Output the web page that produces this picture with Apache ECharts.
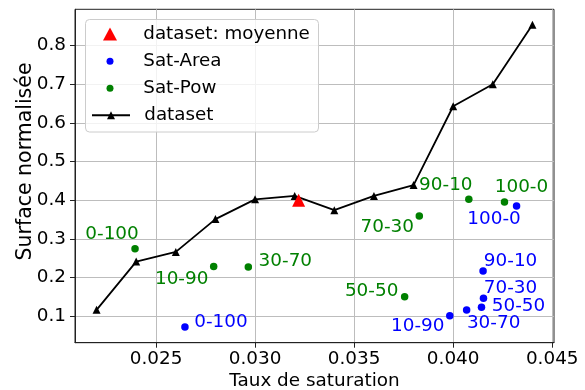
<!DOCTYPE html>
<html>
<head>
<meta charset="utf-8">
<script src="https://cdn.jsdelivr.net/npm/echarts@6/dist/echarts.min.js"></script>
<style>html,body{margin:0;padding:0;background:#fff}#c{width:585px;height:390px}</style>
</head>
<body>
<div id="c"></div>
<script>
// ---- data ----
const datasetX = [0.022, 0.024, 0.026, 0.028, 0.030, 0.032, 0.034, 0.036, 0.038, 0.040, 0.042, 0.044];
const datasetY = [0.116, 0.241, 0.266, 0.351, 0.402, 0.411, 0.374, 0.411, 0.439, 0.643, 0.700, 0.854];
const moyenneX = [0.0322];
const moyenneY = [0.400];
const satPowX = [0.02394, 0.02791, 0.02966, 0.03755, 0.03829, 0.04079, 0.04259];
const satPowY = [0.274, 0.228, 0.227, 0.150, 0.359, 0.402, 0.395];
const satPowLabels = ['0-100', '10-90', '30-70', '50-50', '70-30', '90-10', '100-0'];
const satAreaX = [0.02646, 0.03983, 0.04068, 0.04143, 0.04153, 0.04151, 0.04320];
const satAreaY = [0.0715, 0.101, 0.1155, 0.123, 0.146, 0.2166, 0.385];
const satAreaLabels = ['0-100', '10-90', '30-70', '50-50', '70-30', '90-10', '100-0'];
const xTicks = [0.025, 0.030, 0.035, 0.040, 0.045];
const yTicks = [0.1, 0.2, 0.3, 0.4, 0.5, 0.6, 0.7, 0.8];
const xName = 'Taux de saturation';
const yName = 'Surface normalisée';
const seriesNames = ['dataset: moyenne', 'Sat-Area', 'Sat-Pow', 'dataset'];

// ---- style (label offsets in px) ----
const powOffsets = [[-23, -15], [-32, 13], [37, -6], [-33, -6], [-32, 11], [-23, -14], [17, -15]];
const areaOffsets = [[36, -5], [-32, 11], [27, 13], [37, -1], [27, -10], [27.5, -10], [-22.5, 13]];

const FONT = 'DejaVu Sans';
const FS = 18.4;

function pts(xs, ys) { return xs.map((x, i) => [x, ys[i]]); }
function labeled(xs, ys, labels, offs, color) {
  return xs.map((x, i) => ({
    value: [x, ys[i]],
    label: {
      show: true, formatter: labels[i], position: 'inside', offset: offs[i],
      align: 'center', verticalAlign: 'middle', color: color,
      fontFamily: FONT, fontSize: FS
    }
  }));
}

const chart = echarts.init(document.getElementById('c'), null, {renderer: 'canvas'});

const legendCenters = [34, 61.3, 88.3, 115.3];
const textLeft = 143.3;
function legendFor(i, itemW, itemH, iconLeft) {
  return {
    show: true, orient: 'vertical', padding: 0, z: 20,
    left: iconLeft, top: legendCenters[i] - 11,
    itemWidth: itemW, itemHeight: itemH,
    data: [seriesNames[i]],
    selectedMode: false,
    textStyle: {
      fontFamily: FONT, fontSize: 18.3, color: '#000', lineHeight: 22,
      padding: [0, 0, 0, textLeft - (iconLeft + itemW + 5)]
    }
  };
}

const option = {
  animation: false,
  backgroundColor: '#fff',
  grid: {
    left: 75, right: 31, top: 9.3, bottom: 47.3,
    containLabel: false, outerBoundsMode: 'none',
    show: true, borderColor: '#222', borderWidth: 1, backgroundColor: 'transparent'
  },
  graphic: [{
    type: 'rect', z: 15, left: 85, top: 19,
    shape: {width: 233, height: 112.5, r: 4},
    style: {fill: 'rgba(255,255,255,0.8)', stroke: '#cccccc', lineWidth: 1}
  }],
  legend: [
    legendFor(0, 14, 13, 103),
    legendFor(1, 7, 7, 106.5),
    legendFor(2, 7, 7, 106.5),
    legendFor(3, 38, 10, 91)
  ],
  xAxis: {
    type: 'value', min: 0.02091, max: 0.04509,
    minInterval: 0.005, maxInterval: 0.005,
    name: xName, nameLocation: 'middle', nameGap: 30, nameMoveOverlap: false,
    nameTextStyle: {fontFamily: FONT, fontSize: FS, color: '#000'},
    axisLine: {show: true, onZero: false, lineStyle: {color: '#222', width: 1}},
    axisTick: {show: true, length: 5, lineStyle: {color: '#222'}, customValues: xTicks},
    axisLabel: {
      customValues: xTicks, margin: 8, color: '#000', fontFamily: FONT, fontSize: FS,
      formatter: v => v.toFixed(3)
    },
    splitLine: {show: true, lineStyle: {color: '#bdbdbd', width: 1}}
  },
  yAxis: {
    type: 'value', min: 0.031, max: 0.894,
    minInterval: 0.1, maxInterval: 0.1,
    name: yName, nameLocation: 'middle', nameGap: 39, nameRotate: 90, nameMoveOverlap: false,
    nameTextStyle: {fontFamily: FONT, fontSize: 20.5, color: '#000', padding: [0, 0, 0, 29]},
    axisLine: {show: true, onZero: false, lineStyle: {color: '#222', width: 1}},
    axisTick: {show: true, length: 5, lineStyle: {color: '#222'}, customValues: yTicks},
    axisLabel: {
      customValues: yTicks, margin: 9, color: '#000', fontFamily: FONT, fontSize: FS,
      formatter: v => v.toFixed(1)
    },
    splitLine: {show: true, lineStyle: {color: '#bdbdbd', width: 1}}
  },
  series: [
    {
      name: seriesNames[3], type: 'line', z: 3,
      data: pts(datasetX, datasetY),
      symbol: 'triangle', symbolSize: 8, showAllSymbol: true,
      lineStyle: {color: '#000', width: 1.8},
      itemStyle: {color: '#000'}
    },
    {
      name: seriesNames[1], type: 'scatter', z: 4,
      data: labeled(satAreaX, satAreaY, satAreaLabels, areaOffsets, '#0000ff'),
      symbol: 'circle', symbolSize: 7.5,
      itemStyle: {color: '#0000ff', opacity: 1}
    },
    {
      name: seriesNames[2], type: 'scatter', z: 4,
      data: labeled(satPowX, satPowY, satPowLabels, powOffsets, '#008000'),
      symbol: 'circle', symbolSize: 7.5,
      itemStyle: {color: '#008000', opacity: 1}
    },
    {
      name: seriesNames[0], type: 'scatter', z: 5,
      data: pts(moyenneX, moyenneY),
      symbol: 'triangle', symbolSize: 13,
      itemStyle: {color: '#ff0000', opacity: 1}
    }
  ]
};
chart.setOption(option);
</script>
</body>
</html>
